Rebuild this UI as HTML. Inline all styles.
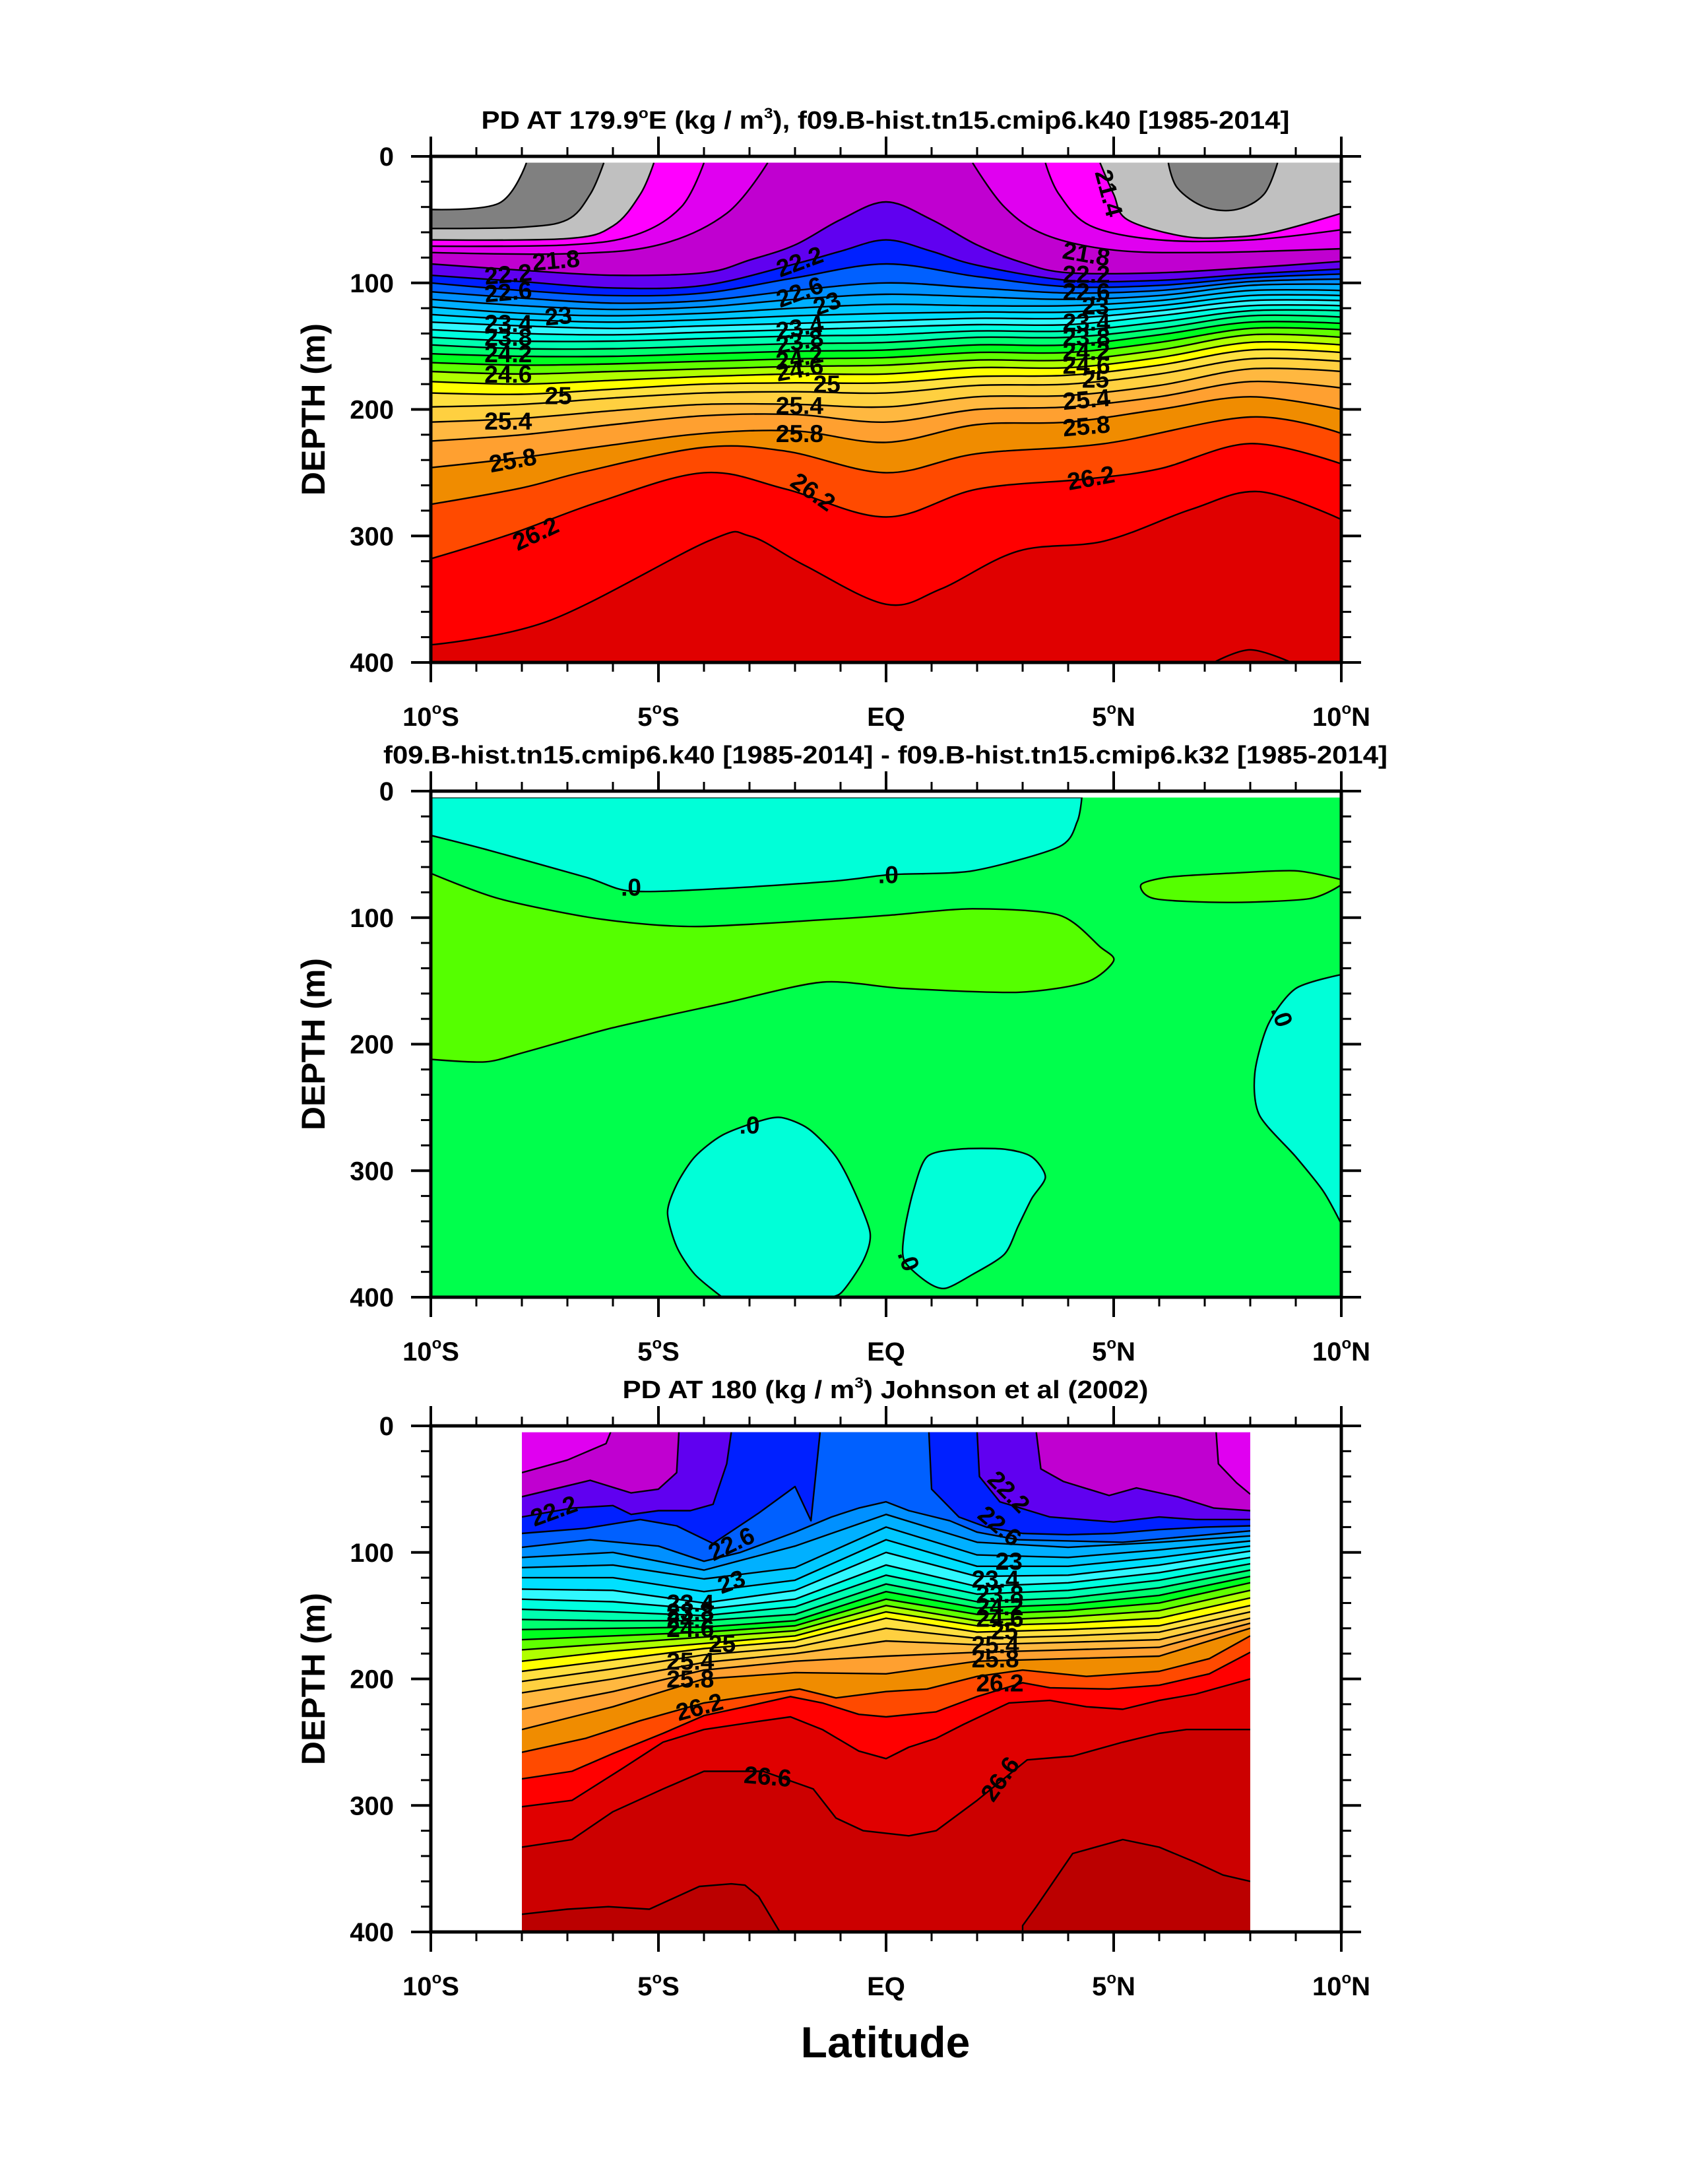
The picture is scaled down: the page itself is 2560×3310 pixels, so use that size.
<!DOCTYPE html>
<html><head><meta charset="utf-8">
<style>
html,body{margin:0;padding:0;background:#fff;}
svg{display:block;font-family:"Liberation Sans",sans-serif;font-weight:bold;}
</style></head>
<body>
<svg id="chart" width="2560" height="3310" viewBox="0 0 2560 3310" xmlns="http://www.w3.org/2000/svg">
<rect x="0" y="0" width="2560" height="3310" fill="#fff"/>
</svg>
<script>
// ---------- colormap (level -> color of region denser than level) ----------
const cmapLevels = [21.0,21.2,21.4,21.6,21.8,22.0,22.2,22.4,22.6,22.8,23.0,23.2,23.4,23.6,23.8,24.0,24.2,24.4,24.6,24.8,25.0,25.2,25.4,25.6,25.8,26.0,26.2,26.4,26.6,26.8];
const cmapColors = ["#808080","#c0c0c0","#ff00ff","#e000f0","#c000d0","#6000f0","#0020ff","#0060ff","#0090ff","#00b0ff","#00c8ff","#00e0ff","#30f8ff","#00ffe0","#00ffb0","#00ff70","#00ff20","#60ff00","#b0ff00","#ffff00","#ffe040","#ffd040","#ffb840","#ffa030","#f08c00","#ff4a00","#ff0000","#e00000","#cc0000","#bb0000"];

// ---------- panel 1: model PD section (lat, depth) ----------
const p1Levels = [21.0,21.2,21.4,21.6,21.8,22.0,22.2,22.4,22.6,22.8,23.0,23.2,23.4,23.6,23.8,24.0,24.2,24.4,24.6,24.8,25.0,25.2,25.4,25.6,25.8,26.0,26.2,26.4,26.6];
const p1Lats = [-10,-8,-6,-4,-2,0,2,4,6,8,10];
const p1Lines = [
 [[-10,42],[-8.5,37],[-7.9,5],[10,5]],
 [[-10,57],[-8,56],[-7,50],[-6.5,30],[-6.2,5],[6.2,5],[6.4,25],[7,40],[7.7,42],[8.3,30],[8.6,5],[10,5]],
 [[-10,66],[-7,65],[-6,55],[-5.4,30],[-5.1,5],[4.7,5],[5,30],[5.3,50],[6.5,63],[7.5,64],[8.5,60],[10,45]],
 [[-10,71],[-7,70],[-5.5,62],[-4.5,40],[-4.0,5],[3.5,5],[3.8,30],[4.5,55],[6,66],[8,66],[10,58]],
 [[-10,76],[-7,77],[-5,70],[-3.5,45],[-2.6,5],[1.9,5],[2.6,40],[3.5,62],[5,74],[7,76],[10,73]],
 [[-10,85],[-8,90],[-6,94],[-4,92],[-3,82],[-2,70],[-1,50],[0,36],[1,50],[2,70],[3,84],[4,92],[6,92],[8,88],[10,83]],
 [[-10,94],[-8,99],[-6,104],[-4,102],[-2,85],[-1,75],[0,66],[1,75],[2,86],[4,98],[6,98],[8,93],[10,89]]
];
const p1Cols = [
 [100,106,110,108,96,85,95,103,102,96,93],
 [107,112,116,114,106,100,104,108,106,99,97],
 [113,118,121,119,113,109,111,113,110,102,101],
 [119,124,126,124,120,117,118,118,114,106,106],
 [125,129,131,129,126,124,123,123,118,110,110],
 [131,134,136,134,132,130,128,128,122,114,114],
 [137,140,141,139,137,135,133,133,126,118,118],
 [143,146,146,144,142,141,138,138,131,122,122],
 [149,152,152,150,148,147,143,143,136,126,127],
 [156,158,158,156,154,153,149,149,141,131,132],
 [163,165,164,162,160,159,155,155,147,136,137],
 [170,172,170,168,166,165,161,161,153,141,143],
 [178,180,177,174,172,172,167,167,159,147,149],
 [187,188,184,180,179,179,174,173,165,153,155],
 [198,196,191,187,186,187,181,180,172,160,162],
 [210,207,201,196,196,198,190,189,181,168,170],
 [225,220,212,205,204,210,200,198,190,178,183],
 [246,238,228,219,217,226,212,210,200,190,200]
];
const p1Deep = [
 [[-10,275],[-8,262],[-6.6,249],[-4,230],[-2.2,233],[0,250],[2,235],[4.8,227],[8,206],[10,219]],
 [[-10,318],[-8.2,298],[-6.3,273],[-4,250],[-2.2,263],[0,285],[2,263],[4.4,255],[6,247],[8,227],[10,243]],
 [[-10,386],[-7.4,367],[-3.9,304],[-3,300],[-1.8,323],[0,354],[1.2,342],[2.9,312],[4.8,304],[6.7,279],[8.2,265],[10,287]],
 [[-10,430],[6.8,430],[7.2,400],[8,390],[8.9,400],[9.3,430],[10,430]]
];
const p1LabText = ["21.8","22.2","22.6","23","23.4","23.8","24.2","24.6","25","25.4","25.8","26.2",
 "22.2","22.6","23","23.4","23.8","24.2","24.6","25","25.4","25.8","26.2",
 "21.4","21.8","22.2","22.6","23","23.4","23.8","24.2","24.6","25","25.4","25.8","26.2"];
const p1LabLat = [-7.25,-8.3,-8.3,-7.2,-8.3,-8.3,-8.3,-8.3,-7.2,-8.3,-8.2,-7.7,
 -1.9,-1.9,-1.3,-1.9,-1.9,-1.9,-1.9,-1.3,-1.9,-1.9,-1.6,
 4.9,4.4,4.4,4.4,4.6,4.4,4.4,4.4,4.4,4.6,4.4,4.4,4.5];
const p1LabDepth = [82,93,107,126,132,143,156,172,189,209,240,298,
 83,107,116,135,146,159,168,180,197,219,265,
 29,77,93,107,118,131,143,154,165,176,192,213,254];
const p1LabRot = [-5,-5,-5,-5,0,0,0,0,0,0,-10,-25,-20,-20,-20,-10,-10,-10,-10,0,0,0,35,75,10,0,0,0,0,0,0,0,0,-5,-5,-10];

// ---------- panel 2: difference regions (lat, depth) ----------
const p2Aqua1 = [[-10,5],[-10,35],[-8.8,46],[-6.6,68],[-5.6,79],[-3.6,77],[-1.1,71],[0.1,66],[1.9,63],[3.8,44],[4.2,24],[4.3,5]];
const p2Lime1 = [[-10,65],[-8.5,85],[-6.3,101],[-4.2,107],[-1.1,101],[0.1,98],[1.9,93],[3.8,98],[4.7,123],[5.0,134],[4.4,151],[2.9,159],[0.4,156],[-1.4,151],[-3.6,168],[-6.0,187],[-7.9,206],[-8.8,214],[-10,212]];
const p2Lime2 = [[5.6,74],[5.9,85],[7.5,88],[9.3,85],[10,74],[10,70],[9.0,63],[7.5,65],[6.2,68]];
const p2Aqua2 = [[10,145],[9.0,156],[8.4,184],[8.1,223],[8.2,256],[9.0,289],[9.6,316],[10,342]];
const p2Aqua3 = [[-4.6,311],[-4.2,289],[-3.6,272],[-2.8,261],[-2.3,258],[-1.7,267],[-1.1,289],[-0.7,316],[-0.35,349],[-0.5,371],[-1.0,397],[-1.4,400],[-3.6,400],[-4.2,382],[-4.6,360],[-4.8,333]];
const p2Aqua4 = [[0.4,349],[0.6,316],[0.9,289],[1.6,283],[2.6,283],[3.2,289],[3.5,305],[3.2,322],[2.9,344],[2.6,366],[1.9,382],[1.3,393],[0.9,388],[0.4,371]];
const p2LabText = [".0",".0",".0",".0",".0"];
const p2LabLat = [-5.6,0.05,8.7,-3.0,0.5];
const p2LabDepth = [76,66,178,264,371];
const p2LabRot = [0,0,70,0,70];

// ---------- panel 3: Johnson et al obs (lat, depth) ----------
const p3Levels = [21.8,22.0,22.2,22.4,22.6,22.8,23.0,23.2,23.4,23.6,23.8,24.0,24.2,24.4,24.6,24.8,25.0,25.2,25.4,25.6,25.8,26.0,26.2,26.4,26.6,26.8];
const p3Lats = [-8,-6,-4,-2,0,2,4,6,8];
const p3Upper = [
 [[-8,37],[-7,27],[-6.15,14],[-6.05,5],[7.25,5],[7.3,30],[7.7,45],[8,54]],
 [[-8,56],[-6.5,43],[-5.6,53],[-5,50],[-4.6,37],[-4.55,5],[3.3,5],[3.4,34],[3.9,44],[4.9,55],[5.5,49],[6.4,56],[7.2,65],[8,67]],
 [[-8,72],[-6.9,65],[-6,63],[-5.6,70],[-5,67],[-4.3,67],[-3.8,62],[-3.5,30],[-3.4,5],[2.0,5],[2.05,40],[2.5,60],[3.6,72],[5,76],[6,72],[6.8,74],[8,74]],
 [[-8,85],[-6.6,81],[-5.4,74],[-4.6,79],[-3.8,93],[-2.8,69],[-2,48],[-1.65,75],[-1.45,5],[0.94,5],[1.0,50],[1.6,72],[2.2,80],[3,85],[4,86],[5,85],[6,82],[7,80],[8,79]],
 [[-8,96],[-6.5,90],[-5,95],[-4,107],[-3.2,100],[-2,84],[-1.2,72],[-0.6,65],[0,60],[0.5,67],[1.4,75],[2,84],[2.9,90],[5.2,92],[8,83]]
];
const p3Cols = [
 [104,100,114,95,70,92,96,92,87],
 [112,110,121,112,80,102,104,98,91],
 [120,120,131,122,90,111,111,104,95],
 [129,130,140,130,100,119,118,110,99],
 [137,139,145,137,110,127,124,116,104],
 [145,147,150,143,118,133,130,122,109],
 [153,154,154,149,125,139,136,128,114],
 [161,160,159,154,131,144,141,134,119],
 [169,166,163,158,137,149,146,140,124],
 [177,172,167,162,142,154,151,146,130],
 [186,178,172,166,147,158,156,152,136],
 [194,185,176,170,152,163,161,158,142],
 [202,192,181,175,160,168,166,163,147],
 [211,200,187,180,170,173,171,169,152],
 [224,210,193,186,182,179,177,175,156],
 [240,222,200,195,196,186,184,182,160]
];
const p3Deep = [
 [[-8,258],[-6.6,247],[-5.4,233],[-4,219],[-2.7,212],[-1.9,208],[-1.1,215],[0,210],[0.9,208],[2,198],[3,193],[4.4,198],[6,194],[7.1,184],[8,166]],
 [[-8,279],[-6.9,273],[-6,259],[-4.9,243],[-4,229],[-3.1,222],[-2.1,214],[-1.4,219],[-0.6,228],[0,230],[1.1,226],[2,214],[3,203],[3.6,207],[4.9,208],[6,205],[7.1,196],[8,179]],
 [[-8,301],[-6.9,296],[-5.8,271],[-4.9,250],[-4,240],[-2.7,233],[-2.1,230],[-1.4,240],[-0.6,257],[0,263],[0.5,254],[1.1,247],[1.7,236],[2.7,219],[3.6,217],[4.4,222],[5.2,224],[6,217],[6.8,212],[8,200]],
 [[-8,333],[-6.9,327],[-6,305],[-4.9,287],[-4,273],[-2.7,273],[-1.6,287],[-1.1,310],[-0.5,320],[0.5,324],[1.1,320],[2,296],[3.1,264],[4.1,261],[5.2,250],[6,243],[6.6,240],[8,240]],
 [[-8,386],[-7,382],[-6.1,380],[-5.2,382],[-4.1,364],[-3.4,362],[-3.1,363],[-2.8,372],[-2.3,402],[3.0,402],[3.0,395],[3.3,380],[4.1,338],[5.2,327],[6,333],[6.8,345],[7.4,355],[8,360]]
];
const p3LabText = ["22.2","22.6","23","23.4","23.8","24.2","24.6","25","25.4","25.8","26.2","26.6",
 "22.2","22.6","23","23.4","23.8","24.2","24.6","25","25.4","25.8","26.2","26.6"];
const p3LabLat = [-7.3,-3.4,-3.4,-4.3,-4.3,-4.3,-4.3,-3.6,-4.3,-4.3,-4.1,-2.6,
 2.7,2.5,2.7,2.4,2.5,2.5,2.5,2.6,2.4,2.4,2.5,2.5];
const p3LabDepth = [67,93,123,140,147,153,160,172,186,200,222,277,
 52,79,107,121,133,143,152,162,173,184,203,279];
const p3LabRot = [-20,-25,-20,0,0,0,0,0,0,0,-15,5,45,40,0,0,0,0,0,0,0,0,0,-55];

// ---------- layout ----------
const PX0 = 653, PW = 1380, PH = 767;
const panelTops = [237, 1199, 2161];
const SURF = 5;
const svg = document.getElementById('chart');
const NS = "http://www.w3.org/2000/svg";

function mk(tag, attrs, parent){
  const e = document.createElementNS(NS, tag);
  for (const k in attrs) e.setAttribute(k, attrs[k]);
  (parent || svg).appendChild(e);
  return e;
}
function xS(lat){ return PX0 + (lat + 10) / 20 * PW; }
function yS(top, d){ return top + d / 400 * PH; }
function colorFor(level){
  for (let i = 0; i < cmapLevels.length; i++) if (Math.abs(cmapLevels[i] - level) < 1e-6) return cmapColors[i];
  return "#fff";
}
function colsToLine(lats, col){ return lats.map((la, i) => [la, col[i]]); }

// Catmull-Rom segment; 'hard' marks vertices where the curve must not overshoot
function segCtrl(P, i, closed, tension, hard){
  const n = P.length;
  const j = closed ? (i + 1) % n : i + 1;
  const p0 = closed ? P[(i - 1 + n) % n] : P[Math.max(0, i - 1)];
  const p1 = P[i];
  const p2 = P[j];
  const p3 = closed ? P[(i + 2) % n] : P[Math.min(n - 1, i + 2)];
  const t1 = (hard && hard[i]) ? 0 : tension / 6;
  const t2 = (hard && hard[j]) ? 0 : tension / 6;
  return [p1[0] + (p2[0] - p0[0]) * t1, p1[1] + (p2[1] - p0[1]) * t1,
          p2[0] - (p3[0] - p1[0]) * t2, p2[1] - (p3[1] - p1[1]) * t2, p2[0], p2[1]];
}
function fmt(a){ return a.map(v => v.toFixed(1)).join(','); }
function hardFlags(pts, latMin, latMax){
  return pts.map(p => p[1] <= SURF + 0.5 || p[1] >= 400 || p[0] <= latMin || p[0] >= latMax);
}

function drawContourPanel(idx, levels, lines, baseColor, latMin, latMax, smooth){
  const top = panelTops[idx];
  const tens = smooth ? 1 : 0;
  const cid = 'clip' + idx;
  const defs = mk('defs', {});
  const cp = mk('clipPath', {id: cid}, defs);
  mk('rect', {x: xS(latMin), y: yS(top, SURF), width: xS(latMax) - xS(latMin), height: yS(top, 400) - yS(top, SURF)}, cp);
  const g = mk('g', {'clip-path': 'url(#' + cid + ')'});
  
  
  const base = mk('rect', {x: xS(latMin), y: yS(top, SURF), width: xS(latMax) - xS(latMin), height: yS(top, 400) - yS(top, SURF), fill: baseColor}, g);
  
  
  const screen = lines.map(pts => pts.map(p => [xS(p[0]), yS(top, Math.max(SURF, p[1]))]));
  const hards = lines.map(pts => hardFlags(pts, latMin, latMax));
  screen.forEach((P, k) => {
    let d = 'M' + fmt(P[0]);
    for (let i = 0; i < P.length - 1; i++) d += 'C' + fmt(segCtrl(P, i, false, tens, hards[k]));
    d += 'L' + xS(latMax + 1) + ',' + yS(top, 420) + 'L' + xS(latMin - 1) + ',' + yS(top, 420) + 'Z';
    const band = mk('path', {d: d, fill: colorFor(levels[k]), stroke: colorFor(levels[k]), 'stroke-width': 0.8}, g);
    
    
  });
  lines.forEach((pts, k) => {
    const P = screen[k];
    let d = '';
    let pen = false;
    for (let i = 0; i < pts.length - 1; i++){
      const a = pts[i], b = pts[i + 1];
      const skip = (a[1] <= SURF + 0.5 && b[1] <= SURF + 0.5) || (a[1] >= 400 && b[1] >= 400);
      if (skip){ pen = false; continue; }
      if (!pen){ d += 'M' + fmt(P[i]); pen = true; }
      d += 'C' + fmt(segCtrl(P, i, false, tens, hards[k]));
    }
    if (d){
      const ln = mk('path', {d: d, fill: 'none', stroke: '#000', 'stroke-width': 2.4, 'stroke-linejoin': 'round'}, g);
      
      
    }
  });
}

function drawLabels(idx, texts, lats, depths, rots, prefix){
  const top = panelTops[idx];
  texts.forEach((t, i) => {
    const x = xS(lats[i]), y = yS(top, depths[i]);
    const tx = mk('text', {x: x, y: y + 13, 'text-anchor': 'middle', 'font-size': 37, fill: '#000',
      transform: 'rotate(' + rots[i] + ' ' + x + ' ' + y + ')'});
    tx.textContent = t;
    
    
  });
}

function drawAxes(idx, title, titleLen){
  const top = panelTops[idx], bot = top + PH, right = PX0 + PW;
  const g = mk('g', {stroke: '#000', 'stroke-linecap': 'butt'});
  
  
  for (let lat = -10; lat <= 10; lat++){
    const major = lat % 5 === 0, L = major ? 30 : 14, w = major ? 4 : 3;
    mk('line', {x1: xS(lat), y1: top, x2: xS(lat), y2: top - L, 'stroke-width': w}, g);
    mk('line', {x1: xS(lat), y1: bot, x2: xS(lat), y2: bot + L, 'stroke-width': w}, g);
  }
  for (let d = 0; d <= 400; d += 20){
    const major = d % 100 === 0, L = major ? 30 : 15, w = major ? 4 : 3;
    mk('line', {x1: PX0, y1: yS(top, d), x2: PX0 - L, y2: yS(top, d), 'stroke-width': w}, g);
    mk('line', {x1: right, y1: yS(top, d), x2: right + L, y2: yS(top, d), 'stroke-width': w}, g);
  }
  mk('rect', {x: PX0, y: top, width: PW, height: PH, fill: 'none', 'stroke-width': 5}, g);
  const xl = ["10|S", "5|S", "EQ", "5|N", "10|N"];
  [-10, -5, 0, 5, 10].forEach((lat, i) => {
    const t = mk('text', {x: xS(lat), y: bot + 96, 'text-anchor': 'middle', 'font-size': 40, fill: '#000'});
    const parts = xl[i].split('|');
    if (parts.length === 2) t.innerHTML = parts[0] + '<tspan font-size="24" dy="-18">o</tspan><tspan dy="18">' + parts[1] + '</tspan>';
    else t.textContent = parts[0];
    
    
  });
  [0, 100, 200, 300, 400].forEach(d => {
    const t = mk('text', {x: 597, y: yS(top, d) + 14, 'text-anchor': 'end', 'font-size': 40, fill: '#000'});
    t.textContent = d;
    
    
  });
  const yt = mk('text', {x: 474, y: top + PH / 2 + 18, 'text-anchor': 'middle', 'font-size': 50, fill: '#000',
    transform: 'rotate(-90 474 ' + (top + PH / 2) + ')'});
  yt.textContent = 'DEPTH (m)';
  
  
  const tt = mk('text', {x: 1342, y: top - 42, 'text-anchor': 'middle', 'font-size': 38, fill: '#000',
    textLength: titleLen, lengthAdjust: 'spacingAndGlyphs'});
  tt.innerHTML = title;
  
  
}

// ---- panel 1 ----
const p1All = p1Lines.concat(p1Cols.map(c => colsToLine(p1Lats, c))).concat(p1Deep);
drawContourPanel(0, p1Levels, p1All, '#ffffff', -10, 10, true);
drawLabels(0, p1LabText, p1LabLat, p1LabDepth, p1LabRot, 'p1');
drawAxes(0, 'PD AT 179.9<tspan font-size="22" dy="-16">o</tspan><tspan dy="16">E (kg / m</tspan><tspan font-size="22" dy="-16">3</tspan><tspan dy="16">), f09.B-hist.tn15.cmip6.k40 [1985-2014]</tspan>', 1225);

// ---- panel 2 ----
(function(){
  const top = panelTops[1];
  const cid = 'clip2d';
  const defs = mk('defs', {});
  const cp = mk('clipPath', {id: cid}, defs);
  mk('rect', {x: xS(-10), y: yS(top, SURF), width: PW, height: yS(top, 400) - yS(top, SURF)}, cp);
  const g = mk('g', {'clip-path': 'url(#' + cid + ')'});
  
  
  const bg = mk('rect', {x: xS(-10), y: yS(top, SURF), width: PW, height: yS(top, 400) - yS(top, SURF), fill: '#00ff4c'}, g);
  
  
  const regs = [[p2Aqua1, '#00ffd8', 'negative-region'], [p2Lime1, '#55ff00', 'positive-region'], [p2Lime2, '#55ff00', 'positive-region'],
                [p2Aqua2, '#00ffd8', 'negative-region'], [p2Aqua3, '#00ffd8', 'negative-region'], [p2Aqua4, '#00ffd8', 'negative-region']];
  regs.forEach(r => {
    const P = r[0].map(p => [xS(p[0]), yS(top, Math.max(SURF, p[1]))]);
    const hard = hardFlags(r[0], -10, 10);
    let d = 'M' + fmt(P[0]);
    for (let i = 0; i < P.length; i++) d += 'C' + fmt(segCtrl(P, i, true, 0.8, hard));
    d += 'Z';
    const poly = mk('path', {d: d, fill: r[1], stroke: '#000', 'stroke-width': 2.4, 'stroke-linejoin': 'round'}, g);
    
    
  });
})();
drawLabels(1, p2LabText, p2LabLat, p2LabDepth, p2LabRot, 'p2');
drawAxes(1, 'f09.B-hist.tn15.cmip6.k40 [1985-2014] - f09.B-hist.tn15.cmip6.k32 [1985-2014]', 1522);

// ---- panel 3 ----
const p3All = p3Upper.concat(p3Cols.map(c => colsToLine(p3Lats, c))).concat(p3Deep);
drawContourPanel(2, p3Levels, p3All, '#e000f0', -8, 8, false);
drawLabels(2, p3LabText, p3LabLat, p3LabDepth, p3LabRot, 'p3');
drawAxes(2, 'PD AT 180 (kg / m<tspan font-size="22" dy="-16">3</tspan><tspan dy="16">) Johnson et al (2002)</tspan>', 797);

const xt = mk('text', {x: 1342, y: 3118, 'text-anchor': 'middle', 'font-size': 66, fill: '#000'});
xt.textContent = 'Latitude';


</script>
</body></html>
